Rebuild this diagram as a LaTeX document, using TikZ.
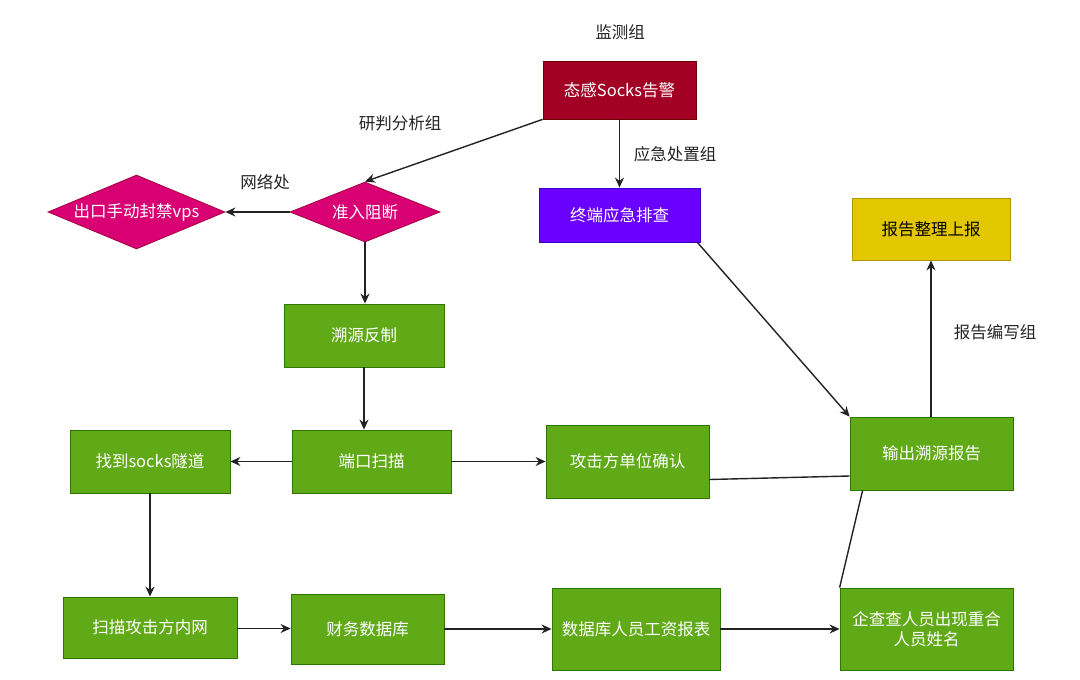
\documentclass[tikz,border=0pt]{standalone}
\usepackage{fontspec}
\setmainfont{Noto Sans CJK SC}
\usetikzlibrary{shapes.geometric,arrows.meta}
\definecolor{gfill}{HTML}{60A917}
\definecolor{gline}{HTML}{2D7600}
\definecolor{rfill}{HTML}{A20025}
\definecolor{rline}{HTML}{6F0000}
\definecolor{pfill}{HTML}{6A00FF}
\definecolor{pline}{HTML}{3700CC}
\definecolor{mfill}{HTML}{D80073}
\definecolor{mline}{HTML}{A50040}
\definecolor{yfill}{HTML}{E3C800}
\definecolor{yline}{HTML}{B09500}
\definecolor{edge}{HTML}{222222}
\definecolor{lbl}{HTML}{222222}
\begin{document}
\begin{tikzpicture}[x=1pt,y=1pt,
  box/.style={rectangle,draw,line width=0.8pt,inner sep=0pt,font=\fontsize{16.5}{20}\selectfont,text=white,align=center},
  gbox/.style={box,fill=gfill,draw=gline},
  dia/.style={diamond,draw,line width=0.8pt,inner sep=0pt,fill=mfill,draw=mline,text=white,font=\fontsize{16.5}{20}\selectfont,shape aspect=2.5},
  lab/.style={font=\fontsize{16.5}{20}\selectfont,text=lbl},
  arr/.style={draw=edge,line width=1.4pt,-{Stealth[length=10pt,width=9pt]}},
  ln/.style={draw=edge,line width=1.4pt}]
\useasboundingbox (0,0) rectangle (1080,-680);
% nodes
\node[box,fill=rfill,draw=rline,minimum width=153,minimum height=58] (alert) at (619.5,-90) {态感Socks告警};
\node[box,fill=pfill,draw=pline,minimum width=161,minimum height=54] (term) at (619.5,-215) {终端应急排查};
\node[dia,minimum width=150,minimum height=60] (zr) at (365,-212) {准入阻断};
\node[dia,minimum width=177,minimum height=74] (ck) at (136.5,-212) {出口手动封禁vps};
\node[gbox,minimum width=160,minimum height=63] (sy) at (364,-335.5) {溯源反制};
\node[gbox,minimum width=159,minimum height=63] (dk) at (371.5,-461.5) {端口扫描};
\node[gbox,minimum width=160,minimum height=63] (sk) at (150,-461.5) {找到socks隧道};
\node[gbox,minimum width=163,minimum height=73] (atk) at (627.5,-461.5) {攻击方单位确认};
\node[gbox,minimum width=163,minimum height=73] (out) at (931.5,-453.5) {输出溯源报告};
\node[box,fill=yfill,draw=yline,text=black,minimum width=158,minimum height=62] (rep) at (931,-229) {报告整理上报};
\node[gbox,minimum width=174,minimum height=61] (nw) at (150,-627.5) {扫描攻击方内网};
\node[gbox,minimum width=153,minimum height=70] (cw) at (367.5,-629) {财务数据库};
\node[gbox,minimum width=168,minimum height=82] (db) at (636,-629) {数据库人员工资报表};
\node[gbox,minimum width=173,minimum height=82] (qcc) at (926.5,-629) {企查查人员出现重合\\人员姓名};
% labels
\node[lab] (l1) at (620,-32) {监测组};
\node[lab] (l2) at (675,-154) {应急处置组};
\node[lab] (l3) at (400,-123) {研判分析组};
\node[lab] (l4) at (265,-182) {网络处};
\node[lab] (l5) at (995,-332) {报告编写组};
% edges
\draw[arr] (alert.south west) -- (zr.north);
\draw[arr] (alert.south) -- (term.north);
\draw[arr] (zr.west) -- (ck.east);
\draw[arr] (zr.south) -- (zr.south |- sy.north);
\draw[arr] (sy.south) -- (sy.south |- dk.north);
\draw[arr] (dk.west) -- (sk.east);
\draw[arr] (dk.east) -- (atk.west);
\draw[ln] ([yshift=-18pt]atk.east) -- ([yshift=-22.5pt]out.west);
\draw[arr] ([xshift=-3pt]term.south east) -- (out.north west);
\draw[arr] (out.north -| rep.south) -- (rep.south);
\draw[arr] (sk.south) -- (nw.north);
\draw[arr] ([yshift=-1pt]nw.east) -- ([yshift=-1pt]nw.east -| cw.west);
\draw[arr] (cw.east) -- (db.west);
\draw[arr] (db.east) -- (qcc.west);
\draw[ln] (qcc.north west) -- ([xshift=13pt]out.south west);
\end{tikzpicture}
\end{document}
